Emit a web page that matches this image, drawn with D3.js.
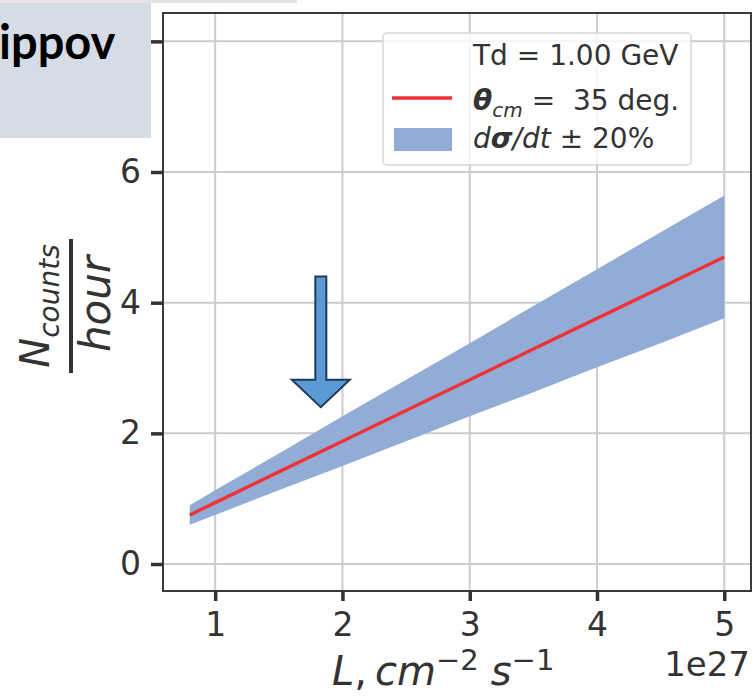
<!DOCTYPE html>
<html><head><meta charset="utf-8">
<script src="https://cdn.jsdelivr.net/npm/d3@7"></script>
<style>body{margin:0;background:#fff}svg{display:block}</style>
</head><body>
<script>
// ---- data (L in units of 1e27 cm^-2 s^-1) ----
const luminosity = [0.8, 1.0, 1.5, 2.0, 2.5, 3.0, 3.5, 4.0, 4.5, 5.0];
const counts     = [0.75, 0.94, 1.41, 1.88, 2.35, 2.82, 3.29, 3.76, 4.23, 4.70];
const countsLow  = [0.60, 0.75, 1.13, 1.50, 1.88, 2.26, 2.63, 3.01, 3.38, 3.76];
const countsHigh = [0.90, 1.13, 1.69, 2.26, 2.82, 3.38, 3.95, 4.51, 5.08, 5.64];
const xTicks = [1, 2, 3, 4, 5];
const yTicks = [0, 2, 4, 6, 8];
const legendLabels = ["Td = 1.00 GeV", "θcm = 35 deg.", "dσ/dt ± 20%"];
const arrowAt = {x: 1.83, top: 4.4, headBase: 2.82, tip: 2.4};

const W = 754, H = 697;
const pL = 163, pR = 751, pT = 13, pB = 591;
const svg = d3.select("body").append("svg").attr("width", W).attr("height", H);

const x = d3.scaleLinear().domain([0.59, 5.21]).range([pL, pR]);
const y = d3.scaleLinear().domain([-0.413, 8.434]).range([pB, pT]);

const tickColor = "#333333", gridColor = "#cccccc";
const font = "DejaVu Sans";

// grid
svg.append("g").selectAll("line").data(xTicks).join("line")
  .attr("x1", d => x(d)).attr("x2", d => x(d)).attr("y1", pT).attr("y2", pB)
  .attr("stroke", gridColor).attr("stroke-width", 2);
svg.append("g").selectAll("line").data(yTicks).join("line")
  .attr("y1", d => y(d)).attr("y2", d => y(d)).attr("x1", pL).attr("x2", pR)
  .attr("stroke", gridColor).attr("stroke-width", 2);

// band
const rows = luminosity.map((L, i) => ({L, c: counts[i], lo: countsLow[i], hi: countsHigh[i]}));
svg.append("path").datum(rows)
  .attr("d", d3.area().x(d => x(d.L)).y0(d => y(d.lo)).y1(d => y(d.hi)))
  .attr("fill", "#92acd5");
svg.append("path").datum(rows)
  .attr("d", d3.line().x(d => x(d.L)).y(d => y(d.c)))
  .attr("fill", "none").attr("stroke", "#ee3338").attr("stroke-width", 3.4);

// spines
svg.append("rect").attr("x", pL).attr("y", pT).attr("width", pR - pL).attr("height", pB - pT)
  .attr("fill", "none").attr("stroke", "#3a3a3a").attr("stroke-width", 2);

// axes
const xAxis = d3.axisBottom(x).tickValues(xTicks).tickFormat(d3.format("d")).tickSize(10).tickPadding(12);
const gx = svg.append("g").attr("transform", `translate(0,${pB})`).call(xAxis);
const yAxis = d3.axisLeft(y).tickValues(yTicks).tickFormat(d3.format("d")).tickSize(12).tickPadding(10);
const gy = svg.append("g").attr("transform", `translate(${pL},0)`).call(yAxis);
[gx, gy].forEach(g => {
  g.select(".domain").remove();
  g.selectAll(".tick line").attr("stroke", tickColor).attr("stroke-width", 3.5);
  g.selectAll(".tick text").attr("fill", tickColor).attr("font-family", font).attr("font-size", 33);
});
gx.selectAll(".tick text").attr("dy", "0.71em");

// offset text
svg.append("text").attr("x", 750).attr("y", 676).attr("text-anchor", "end")
  .attr("font-family", font).attr("font-size", 34).attr("fill", tickColor).text("1e27");

// x label
const xl = svg.append("text").attr("x", 332).attr("y", 685)
  .attr("font-family", font).attr("font-size", 40).attr("fill", tickColor);
xl.append("tspan").attr("font-style", "italic").text("L");
xl.append("tspan").text(",");
xl.append("tspan").attr("font-style", "italic").attr("dx", 8).text("cm");
xl.append("tspan").attr("font-size", 29).attr("dy", -15).text("−2");
xl.append("tspan").attr("font-style", "italic").attr("dy", 15).attr("dx", 12).text("s");
xl.append("tspan").attr("font-size", 29).attr("dy", -15).text("−1");

// y label (fraction)
const yl = svg.append("g").attr("transform", "translate(71,306) rotate(-90)")
  .attr("font-family", font).attr("fill", tickColor);
const num = yl.append("text").attr("x", 0).attr("y", -22).attr("text-anchor", "middle").attr("font-size", 40);
num.append("tspan").attr("font-style", "italic").text("N");
num.append("tspan").attr("font-style", "italic").attr("font-size", 28).attr("dy", 10).text("counts");
yl.append("text").attr("x", 2).attr("y", 39).attr("text-anchor", "middle").attr("font-size", 42)
  .attr("font-style", "italic").text("hour");
yl.append("rect").attr("x", -67).attr("y", -2).attr("width", 134).attr("height", 4).attr("fill", tickColor);

// legend
const lg = svg.append("g");
lg.append("rect").attr("x", 383).attr("y", 33).attr("width", 308).attr("height", 132).attr("rx", 4)
  .attr("fill", "rgba(255,255,255,0.8)").attr("stroke", "#d6d6d6").attr("stroke-width", 1.5);
const lt = (yy) => lg.append("text").attr("x", 473).attr("y", yy).attr("font-family", font)
  .attr("font-size", 28).attr("fill", tickColor).style("white-space", "pre");
lt(65).text(legendLabels[0]);
const t2 = lt(110);
t2.append("tspan").attr("font-weight", "bold").attr("font-style", "italic").text("θ");
t2.append("tspan").attr("font-style", "italic").attr("font-size", 20).attr("dy", 7).text("cm");
t2.append("tspan").attr("dy", -7).text(" =\u00a0\u00a035 deg.");
const t3 = lt(148);
t3.append("tspan").attr("font-style", "italic").text("d");
t3.append("tspan").attr("font-style", "italic").attr("font-weight", "bold").text("σ");
t3.append("tspan").attr("font-style", "italic").text("/dt");
t3.append("tspan").text(" ± 20%");
lg.append("line").attr("x1", 392).attr("x2", 452).attr("y1", 98).attr("y2", 98)
  .attr("stroke", "#ee3338").attr("stroke-width", 3.4);
lg.append("rect").attr("x", 394).attr("y", 128).attr("width", 58).attr("height", 23).attr("fill", "#92acd5");

// arrow annotation
const ax = x(arrowAt.x), sw = 5.5, hw = 29;
const arrowPts = [
  [ax - sw, y(arrowAt.top)], [ax + sw, y(arrowAt.top)], [ax + sw, y(arrowAt.headBase)],
  [ax + hw, y(arrowAt.headBase)], [ax, y(arrowAt.tip)], [ax - hw, y(arrowAt.headBase)],
  [ax - sw, y(arrowAt.headBase)]
];
svg.append("polygon").attr("points", arrowPts.map(p => p.join(",")).join(" "))
  .attr("fill", "#5b9bd5").attr("stroke", "#1f3a5c").attr("stroke-width", 2).attr("stroke-linejoin", "miter");

// slide overlay box
svg.append("rect").attr("x", 0).attr("y", 0).attr("width", 297).attr("height", 3).attr("fill", "#e4e4e4");
svg.append("rect").attr("x", 0).attr("y", 3).attr("width", 151).attr("height", 135).attr("fill", "#d6dce5");
svg.append("text").attr("x", -1).attr("y", 59).attr("font-family", "Lato").attr("font-weight", "bold")
  .attr("font-size", 47).attr("fill", "#000").text("ippov");
</script>
</body></html>
